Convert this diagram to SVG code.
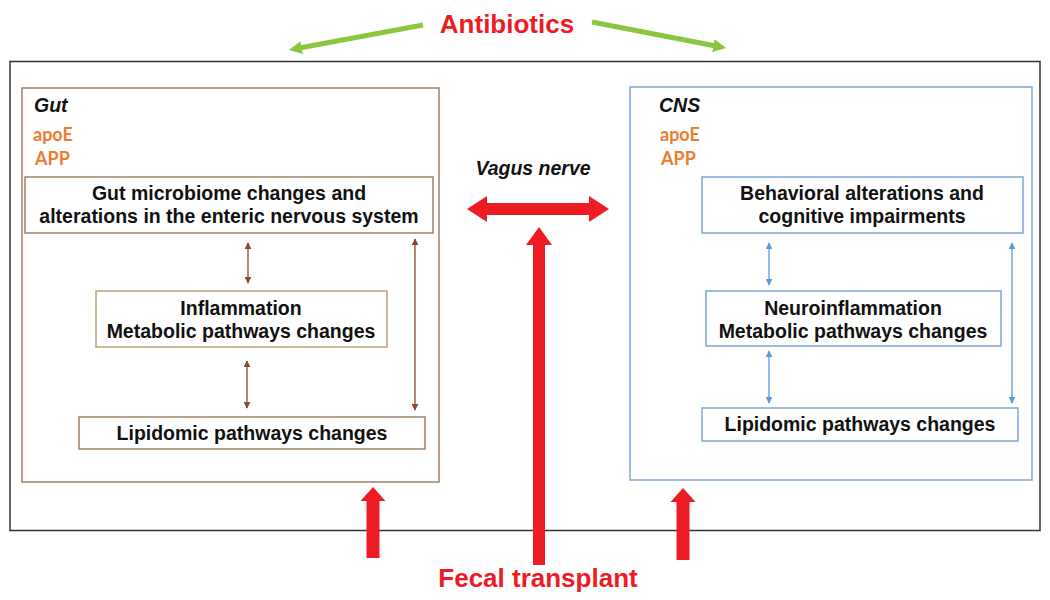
<svg xmlns="http://www.w3.org/2000/svg" width="1050" height="600" viewBox="0 0 1050 600">
<style>
.t{font-family:"Liberation Sans",Arial,sans-serif;font-weight:bold;font-size:19.5px;fill:#111;text-anchor:middle}
.hd{font-family:"Liberation Sans",Arial,sans-serif;font-weight:bold;font-style:italic;font-size:19.5px;fill:#111}
.or{font-family:Lato,"Liberation Sans",sans-serif;font-weight:bold;font-size:18px;fill:#ED7D31}
.red{font-family:"Liberation Sans",Arial,sans-serif;font-weight:bold;font-size:26px;fill:#ED1C24;text-anchor:middle}
.bb{fill:#fff;stroke:#A0806A;stroke-width:1.5}
.bl{fill:#fff;stroke:#7FA6D6;stroke-width:1.5}
.ba{stroke:#8B4A2B;stroke-width:1.3;fill:none}
.ua{stroke:#5B9BD5;stroke-width:1.3;fill:none}
.ga{stroke:#8CC63F;stroke-width:5;fill:none}
.ra{fill:#ED1C24}
</style>
<defs>
<marker id="mb" viewBox="0 0 10 10" refX="9" refY="5" markerWidth="7" markerHeight="7" markerUnits="userSpaceOnUse" orient="auto-start-reverse"><path d="M0,0 L10,5 L0,10 z" fill="#8B4A2B"/></marker>
<marker id="mu" viewBox="0 0 10 10" refX="9" refY="5" markerWidth="7" markerHeight="7" markerUnits="userSpaceOnUse" orient="auto-start-reverse"><path d="M0,0 L10,5 L0,10 z" fill="#5B9BD5"/></marker>
<marker id="mg" viewBox="0 0 10 10" refX="6" refY="5" markerWidth="13" markerHeight="13" markerUnits="userSpaceOnUse" orient="auto"><path d="M0,0 L10,5 L0,10 z" fill="#8CC63F"/></marker>
</defs>
<rect width="1050" height="600" fill="#fff"/>
<rect id="frame" x="10" y="61.5" width="1030" height="469" fill="none" stroke="#333" stroke-width="1.5"/>

<g id="gut">
<rect class="bb" x="22" y="88" width="417" height="394"/>
<text class="hd" x="34" y="112">Gut</text>
<text class="or" x="33" y="141">apoE</text>
<text class="or" x="35" y="165">APP</text>
</g>
<g id="gut-microbiome">
<rect class="bb" x="25" y="177" width="408" height="56"/>
<text class="t" x="229" y="200">Gut microbiome changes and</text>
<text class="t" x="229" y="223">alterations in the enteric nervous system</text>
</g>
<g id="inflammation">
<rect x="96" y="291" width="291" height="56" fill="#fff" stroke="#B8A278" stroke-width="1.5"/>
<text class="t" x="241" y="315">Inflammation</text>
<text class="t" x="241" y="338">Metabolic pathways changes</text>
</g>
<g id="gut-lipidomic">
<rect class="bb" x="79" y="417" width="346" height="32"/>
<text class="t" x="252" y="440">Lipidomic pathways changes</text>
</g>

<g id="cns">
<rect class="bl" x="630" y="87" width="402" height="393"/>
<text class="hd" x="659" y="112">CNS</text>
<text class="or" x="660" y="141">apoE</text>
<text class="or" x="661" y="165">APP</text>
</g>
<g id="behavioral">
<rect class="bl" x="702" y="177" width="321" height="56"/>
<text class="t" x="862" y="200">Behavioral alterations and</text>
<text class="t" x="862" y="223">cognitive impairments</text>
</g>
<g id="neuroinflammation">
<rect class="bl" x="706" y="291" width="295" height="55"/>
<text class="t" x="853" y="315">Neuroinflammation</text>
<text class="t" x="853" y="338">Metabolic pathways changes</text>
</g>
<g id="cns-lipidomic">
<rect class="bl" x="702" y="408" width="316" height="33"/>
<text class="t" x="860" y="431">Lipidomic pathways changes</text>
</g>

<g id="labels">
<text class="red" x="507" y="33">Antibiotics</text>
<text class="hd" x="533" y="175" text-anchor="middle">Vagus nerve</text>
<text class="red" x="538" y="587">Fecal transplant</text>
</g>

<g id="connectors">
<line class="ba" x1="248" y1="243" x2="248" y2="283" marker-start="url(#mb)" marker-end="url(#mb)"/>
<line class="ba" x1="247" y1="361" x2="247" y2="408" marker-start="url(#mb)" marker-end="url(#mb)"/>
<line class="ba" x1="415" y1="239" x2="415" y2="410" marker-start="url(#mb)" marker-end="url(#mb)"/>
<line class="ua" x1="769" y1="243" x2="769" y2="285" marker-start="url(#mu)" marker-end="url(#mu)"/>
<line class="ua" x1="769" y1="351" x2="769" y2="403" marker-start="url(#mu)" marker-end="url(#mu)"/>
<line class="ua" x1="1012" y1="243" x2="1012" y2="403" marker-start="url(#mu)" marker-end="url(#mu)"/>
<line class="ga" x1="423" y1="25" x2="294" y2="49" marker-end="url(#mg)"/>
<line class="ga" x1="592" y1="22" x2="721" y2="47" marker-end="url(#mg)"/>
<path class="ra" d="M467,209 L487,196 L487,203 L589,203 L589,196 L609,209 L589,222 L589,215 L487,215 L487,222 Z"/>
<path class="ra" d="M539,227 L552,245 L545,245 L545,565 L533,565 L533,245 L526,245 Z"/>
<path class="ra" d="M373,487 L385.5,501 L379.5,501 L379.5,558 L366.5,558 L366.5,501 L360.5,501 Z"/>
<path class="ra" d="M683,488 L695.5,502 L689.5,502 L689.5,560 L676.5,560 L676.5,502 L670.5,502 Z"/>
</g>
</svg>
